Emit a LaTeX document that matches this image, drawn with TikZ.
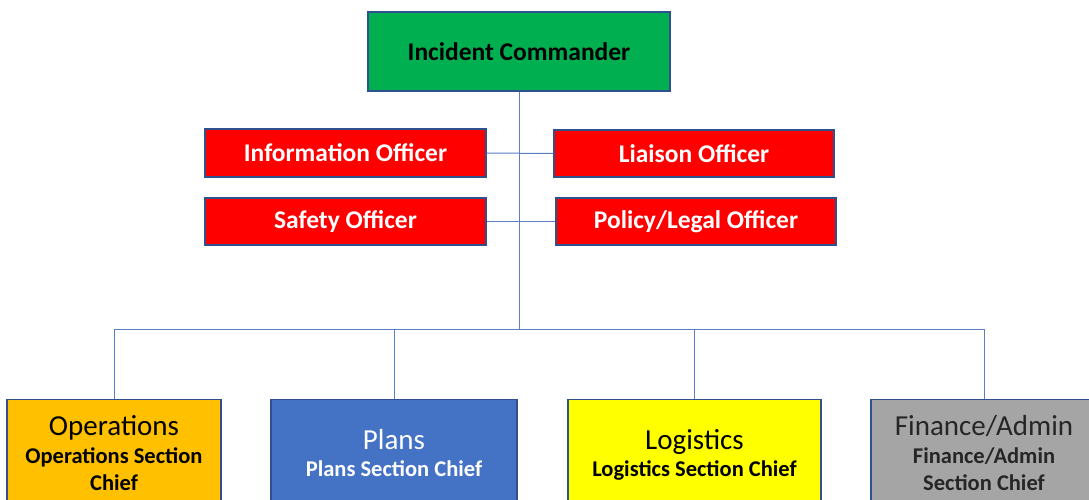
\documentclass[tikz,border=0pt]{standalone}
\usepackage{fontspec}
\setmainfont{Carlito}
\begin{document}
\begin{tikzpicture}[x=1pt,y=-1pt,
  box/.style={draw=boxline,line width=1.3pt,inner sep=0pt,align=center},
  conn/.style={draw=connline,line width=1pt},
  offtxt/.style={text=white,font=\fontsize{25.5}{30}\selectfont\bfseries},
  maintxt/.style={anchor=base,inner sep=0pt,font=\fontsize{29}{35}\selectfont},
  subtxt/.style={anchor=base,inner sep=0pt,font=\fontsize{22.5}{27}\selectfont\bfseries}]
\definecolor{boxline}{HTML}{2F528F}
\definecolor{connline}{HTML}{5B7FC4}
\definecolor{icgreen}{HTML}{00B050}
\definecolor{offred}{HTML}{FF0000}
\definecolor{opsorange}{HTML}{FFC000}
\definecolor{plansblue}{HTML}{4472C4}
\definecolor{logyellow}{HTML}{FFFF00}
\definecolor{fingray}{HTML}{A5A5A5}
\clip (0,0) rectangle (1089,500);
\fill[white] (0,0) rectangle (1089,500);
% top
\node[box,fill=icgreen,minimum width=302pt,minimum height=79pt,font=\fontsize{25.5}{30}\selectfont\bfseries] (ic) at (519,51.5) {Incident Commander};
% officers
\node[box,fill=offred,minimum width=281pt,minimum height=48pt,offtxt] (info) at (345.5,153) {Information Officer};
\node[box,fill=offred,minimum width=280pt,minimum height=47pt,offtxt] (liaison) at (694,153.5) {Liaison Officer};
\node[box,fill=offred,minimum width=281pt,minimum height=47pt,offtxt] (safety) at (345.5,221.5) {Safety Officer};
\node[box,fill=offred,minimum width=280pt,minimum height=47pt,offtxt] (policy) at (696,221.5) {Policy/Legal Officer};
% sections
\node[box,fill=opsorange,minimum width=214pt,minimum height=130pt,anchor=north] (ops) at (114,399) {};
\node[box,fill=plansblue,minimum width=246pt,minimum height=130pt,anchor=north] (plans) at (394,399) {};
\node[box,fill=logyellow,minimum width=253pt,minimum height=130pt,anchor=north] (log) at (694.5,399) {};
\node[box,fill=fingray,minimum width=226pt,minimum height=130pt,anchor=north] (fin) at (984,399) {};
% section texts
\node[maintxt] (opsA) at (114,435) {Operations};
\node[subtxt] (opsB) at (114,463) {Operations Section};
\node[subtxt] (opsC) at (114,490) {Chief};
\node[maintxt,text=white] (plansA) at (394,449) {Plans};
\node[subtxt,text=white] (plansB) at (394,476) {Plans Section Chief};
\node[maintxt] (logA) at (694.5,449) {Logistics};
\node[subtxt] (logB) at (694.5,476) {Logistics Section Chief};
\node[maintxt,text=black!85] (finA) at (984,435) {Finance/Admin};
\node[subtxt,text=black!85] (finB) at (984,463) {Finance/Admin};
\node[subtxt,text=black!85] (finC) at (984,490) {Section Chief};
% connectors
\coordinate (bus) at (519,329);
\coordinate (busL) at (114,329);
\coordinate (busR) at (984,329);
\draw[conn] (ic.south) -- (bus);
\draw[conn] (info.east) -- (liaison.west);
\draw[conn] (safety.east) -- (policy.west);
\draw[conn] (busL) -- (busR);
\draw[conn] (busL) -- (ops.north);
\draw[conn] (plans.north |- bus) -- (plans.north);
\draw[conn] (log.north |- bus) -- (log.north);
\draw[conn] (busR) -- (fin.north);
\end{tikzpicture}
\end{document}
